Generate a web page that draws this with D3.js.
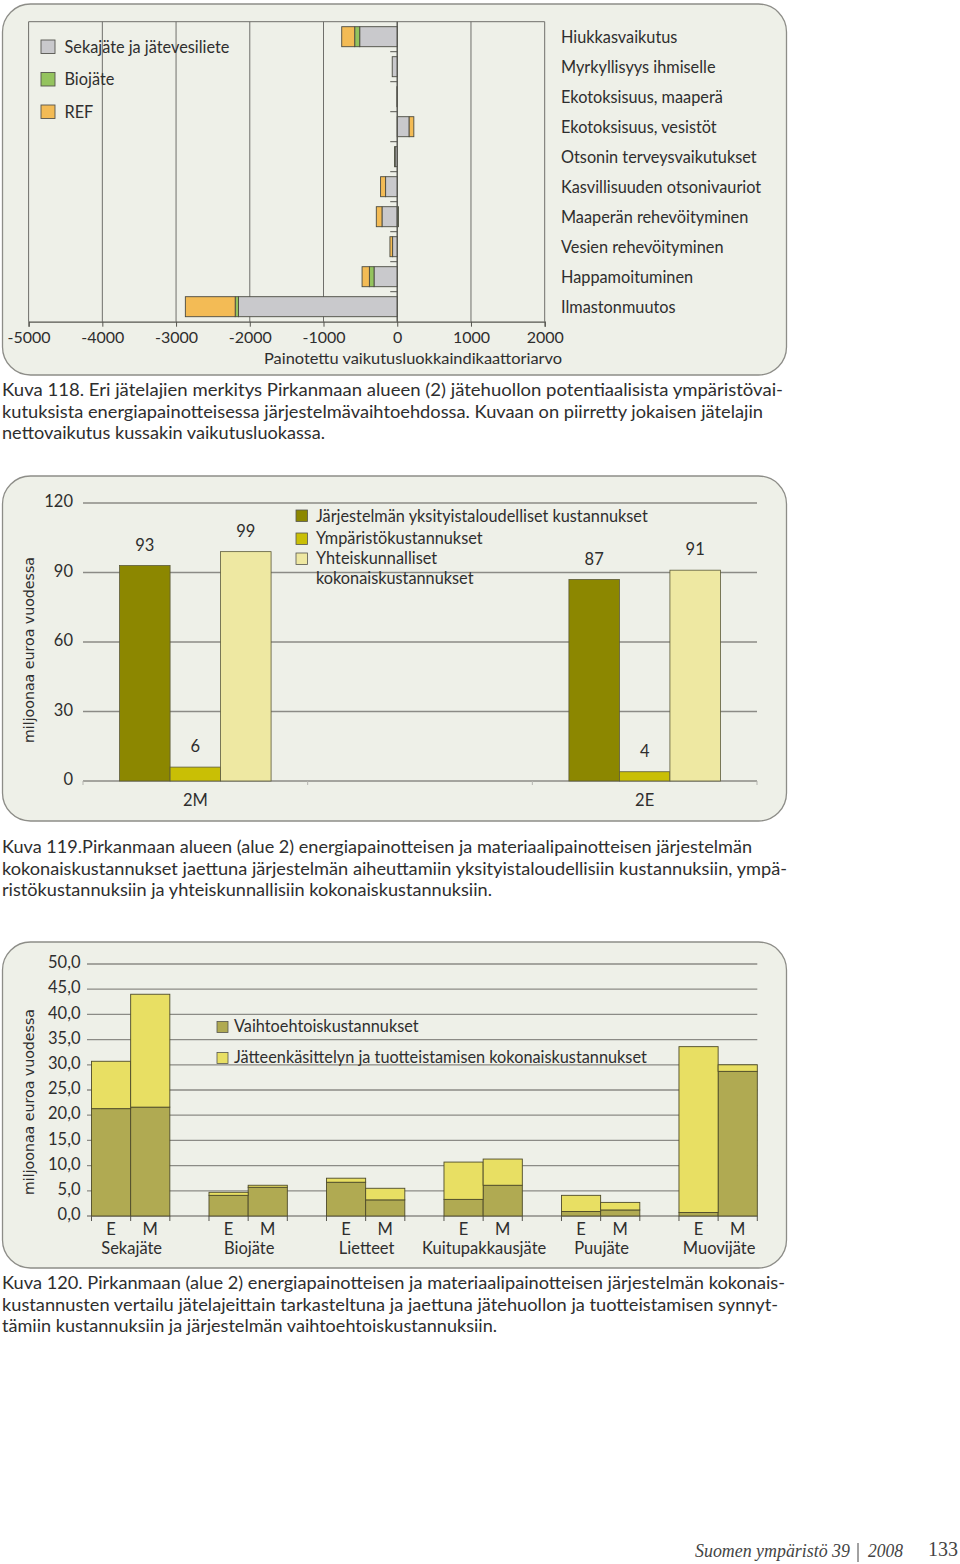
<!DOCTYPE html>
<html><head><meta charset="utf-8">
<script src="https://cdn.jsdelivr.net/npm/d3@7"></script>
<style>body{margin:0;background:#fff}</style>
</head><body><svg id="c" width="960" height="1564"></svg>
<script>
// ---------- Chart 1 data ----------
const impactCategories = ["Hiukkasvaikutus","Myrkyllisyys ihmiselle","Ekotoksisuus, maaperä","Ekotoksisuus, vesistöt","Otsonin terveysvaikutukset","Kasvillisuuden otsonivauriot","Maaperän rehevöityminen","Vesien rehevöityminen","Happamoituminen","Ilmastonmuutos"];
const wasteSeries = ["Sekajäte ja jätevesiliete","Biojäte","REF"];
const sekajateImpact = [-509,-68,-5,162,-30,-158,-207,-63,-315,-2153];
const biojateImpact  = [-68,0,0,0,-6,0,16,0,-63,-45];
const refImpact      = [-176,0,0,63,0,-68,-77,-36,-99,-676];
const impactTicks = [-5000,-4000,-3000,-2000,-1000,0,1000,2000];

// ---------- Chart 2 data ----------
const systemCats = ["2M","","2E"];
const costSeries = ["Järjestelmän yksityistaloudelliset kustannukset","Ympäristökustannukset","Yhteiskunnalliset kokonaiskustannukset"];
const privateCosts = [93, null, 87];
const envCosts     = [6, null, 4];
const socialCosts  = [99, null, 91];
const costTicks = [0,30,60,90,120];

// ---------- Chart 3 data ----------
const wasteTypes = ["Sekajäte","Biojäte","Lietteet","Kuitupakkausjäte","Puujäte","Muovijäte"];
const systems = ["E","M"];
const stackSeries = ["Vaihtoehtoiskustannukset","Jätteenkäsittelyn ja tuotteistamisen kokonaiskustannukset"];
const altCostE   = [21.3, 4.1, 6.7, 3.3, 0.9, 0.7];
const treatCostE = [9.4, 0.6, 0.8, 7.4, 3.2, 32.9];
const altCostM   = [21.6, 5.7, 3.2, 6.1, 1.2, 28.7];
const treatCostM = [22.4, 0.4, 2.3, 5.2, 1.5, 1.3];
const wasteTicks = [0,5,10,15,20,25,30,35,40,45,50];

const FONT = "Lato, 'Open Sans', sans-serif";
const TXT = "#2e2e2e";
const svg = d3.select("#c");

function panel(y0, y1) {
  svg.append("rect").attr("x",2.5).attr("y",y0).attr("width",784).attr("height",y1-y0)
    .attr("rx",28).attr("ry",28).attr("fill","#eef0e8").attr("stroke","#8d8d88").attr("stroke-width",1.3);
}
function text(g, x, y, s, opts={}) {
  const t = g.append("text").attr("x",x).attr("y",y).text(s)
    .attr("font-family",opts.family||FONT).attr("font-size",opts.size||15)
    .attr("fill",opts.fill||TXT).attr("text-anchor",opts.anchor||"start")
    .attr("dominant-baseline",opts.baseline||"middle");
  if (opts.style) t.attr("font-style",opts.style);
  if (opts.len) t.attr("textLength",opts.len).attr("lengthAdjust","spacingAndGlyphs");
  return t;
}

// ================= Chart 1 =================
panel(4, 375);
{
  const g = svg.append("g");
  const x = d3.scaleLinear().domain([-5000,2000]).range([28.6,544.7]);
  const y = d3.scaleBand().domain(impactCategories).range([21.7,321.7]).paddingInner(1/3).paddingOuter(1/6);
  const colors = d3.scaleOrdinal().domain(wasteSeries).range(["#c9c9cc","#94c35e","#f3bb55"]);

  g.selectAll("line.grid").data(impactTicks).join("line")
    .attr("x1",d=>x(d)).attr("x2",d=>x(d)).attr("y1",21.7).attr("y2",321.7)
    .attr("stroke","#6f6f6b").attr("stroke-width",1);
  g.append("line").attr("x1",x(-5000)).attr("x2",x(2000)).attr("y1",21.7).attr("y2",21.7)
    .attr("stroke","#6f6f6b").attr("stroke-width",1);

  const ax = g.append("g").attr("transform","translate(0,321.7)")
    .call(d3.axisBottom(x).tickValues(impactTicks).tickSize(5).tickPadding(5).tickFormat(d=>String(d)));
  ax.select(".domain").attr("stroke","#55554f").attr("stroke-width",1.2);
  ax.selectAll(".tick line").attr("stroke","#55554f");
  ax.selectAll(".tick text").attr("font-family",FONT).attr("font-size",16).attr("fill",TXT);

  const rows = impactCategories.map((c,i)=>({cat:c,[wasteSeries[0]]:sekajateImpact[i],[wasteSeries[1]]:biojateImpact[i],[wasteSeries[2]]:refImpact[i]}));
  const stacked = d3.stack().keys(wasteSeries).offset(d3.stackOffsetDiverging)(rows);
  stacked.forEach(s=>{
    g.append("g").selectAll("rect").data(s.filter(d=>d[1]-d[0]!==0)).join("rect")
      .attr("x",d=>x(Math.min(d[0],d[1]))).attr("width",d=>Math.abs(x(d[1])-x(d[0])))
      .attr("y",d=>y(d.data.cat)).attr("height",y.bandwidth())
      .attr("fill",colors(s.key)).attr("stroke","#4a4a40").attr("stroke-width",0.9);
  });

  g.append("line").attr("x1",x(0)).attr("x2",x(0)).attr("y1",21.7).attr("y2",321.7)
    .attr("stroke","#55554f").attr("stroke-width",1.2);
  const step = y.step();
  g.selectAll("line.ctick").data(impactCategories.slice(1)).join("line")
    .attr("x1",x(0)-7).attr("x2",x(0)).attr("y1",d=>y(d)-step/6).attr("y2",d=>y(d)-step/6)
    .attr("stroke","#55554f").attr("stroke-width",1);

  impactCategories.forEach(c=>text(g,561,y(c)+y.bandwidth()/2+2,c,{size:16.3}));

  text(g,264,359.5,"Painotettu vaikutusluokkaindikaattoriarvo",{size:15.8,len:298});

  wasteSeries.forEach((s,i)=>{
    const yy = 40 + i*32.5;
    g.append("rect").attr("x",41).attr("y",yy).attr("width",14).attr("height",13.5)
      .attr("fill",colors(s)).attr("stroke","#55554f").attr("stroke-width",0.9);
    text(g,64.5,yy+8.5,s,{size:16.3});
  });
}

// Caption 1
[["Kuva 118. Eri jätelajien merkitys Pirkanmaan alueen (2) jätehuollon potentiaalisista ympäristövai-",392,781],
 ["kutuksista energiapainotteisessa järjestelmävaihtoehdossa. Kuvaan on piirretty jokaisen jätelajin",413.5,761],
 ["nettovaikutus kussakin vaikutusluokassa.",435,323]].forEach(([s,yy,l])=>text(svg,2,yy,s,{size:16.5,len:l}));

// ================= Chart 2 =================
panel(476, 821);
{
  const g = svg.append("g");
  const y = d3.scaleLinear().domain([0,120]).range([781,503]);
  const x = d3.scaleBand().domain(systemCats).range([83,757]);
  const groupW = 151.5;
  const xi = d3.scaleBand().domain(costSeries).range([0,groupW]);
  const colors = d3.scaleOrdinal().domain(costSeries).range(["#8c8700","#c9bf05","#eee8a2"]);

  g.selectAll("line.grid").data(costTicks).join("line")
    .attr("x1",83).attr("x2",757).attr("y1",d=>y(d)).attr("y2",d=>y(d))
    .attr("stroke","#8b8b86").attr("stroke-width",1.3);
  costTicks.forEach(t=>text(g,73,y(t),String(t),{size:16.5,anchor:"end"}));

  const bounds = systemCats.map(c=>x(c)).concat([757]);
  g.selectAll("line.ct").data(bounds).join("line")
    .attr("x1",d=>d).attr("x2",d=>d).attr("y1",y(0)).attr("y2",y(0)+4)
    .attr("stroke","#b5b5b0").attr("stroke-width",1);

  const vals = [privateCosts, envCosts, socialCosts];
  systemCats.forEach((c,ci)=>{
    if (privateCosts[ci]===null) return;
    const off = x(c) + (x.bandwidth()-groupW)/2;
    costSeries.forEach((s,si)=>{
      const v = vals[si][ci];
      g.append("rect").attr("x",off+xi(s)).attr("width",xi.bandwidth())
        .attr("y",y(v)).attr("height",y(0)-y(v))
        .attr("fill",colors(s)).attr("stroke","#5b5a3a").attr("stroke-width",0.8);
      text(g,off+xi(s)+xi.bandwidth()/2,y(v)-19,String(v),{size:16.5,anchor:"middle"});
    });
    text(g,x(c)+x.bandwidth()/2,801.5,c,{size:16.5,anchor:"middle"});
  });

  text(g,0,0,"miljoonaa euroa vuodessa",{size:14,anchor:"middle",family:"'DejaVu Sans', sans-serif",len:186})
    .attr("transform","translate(30,650) rotate(-90)");

  const legY = [510, 533, 553];
  costSeries.forEach((s,i)=>{
    g.append("rect").attr("x",296).attr("y",legY[i]).attr("width",11.5).attr("height",11.5)
      .attr("fill",colors(s)).attr("stroke","#55554f").attr("stroke-width",0.8);
  });
  text(g,316,517.5,costSeries[0],{size:16.3});
  text(g,316,539.5,costSeries[1],{size:16.3});
  text(g,316,559.5,"Yhteiskunnalliset",{size:16.3});
  text(g,316,579.5,"kokonaiskustannukset",{size:16.3});
}

// Caption 2
[["Kuva 119.Pirkanmaan alueen (alue 2) energiapainotteisen ja materiaalipainotteisen järjestelmän",849,750],
 ["kokonaiskustannukset jaettuna järjestelmän aiheuttamiin yksityistaloudellisiin kustannuksiin, ympä-",870.5,785],
 ["ristökustannuksiin ja yhteiskunnallisiin kokonaiskustannuksiin.",892,490]].forEach(([s,yy,l])=>text(svg,2,yy,s,{size:16.5,len:l}));

// ================= Chart 3 =================
panel(942, 1268);
{
  const g = svg.append("g");
  const slots = [];
  wasteTypes.forEach((t,i)=>{ systems.forEach(s=>slots.push(t+"|"+s)); if(i<wasteTypes.length-1) slots.push("gap"+i); });
  const x = d3.scaleBand().domain(slots).range([91.5,757.3]);
  const y = d3.scaleLinear().domain([0,50]).range([1216,964]);
  const colors = d3.scaleOrdinal().domain(stackSeries).range(["#b0aa52","#e8df63"]);

  g.selectAll("line.grid").data(wasteTicks).join("line")
    .attr("x1",87).attr("x2",757.3).attr("y1",d=>y(d)).attr("y2",d=>y(d))
    .attr("stroke","#8b8b86").attr("stroke-width",1.3);
  wasteTicks.forEach(t=>text(g,80.5,y(t),t.toFixed(1).replace(".",","),{size:16.5,anchor:"end"}));

  const rows = [];
  wasteTypes.forEach((t,i)=>{
    rows.push({key:t+"|E",[stackSeries[0]]:altCostE[i],[stackSeries[1]]:treatCostE[i]});
    rows.push({key:t+"|M",[stackSeries[0]]:altCostM[i],[stackSeries[1]]:treatCostM[i]});
  });
  const stacked = d3.stack().keys(stackSeries)(rows);
  stacked.forEach(s=>{
    g.append("g").selectAll("rect").data(s).join("rect")
      .attr("x",d=>x(d.data.key)).attr("width",x.bandwidth())
      .attr("y",d=>y(d[1])).attr("height",d=>y(d[0])-y(d[1]))
      .attr("fill",colors(s.key)).attr("stroke","#4e4b2a").attr("stroke-width",0.9);
  });

  const edges = [];
  wasteTypes.forEach(t=>{ edges.push(x(t+"|E"), x(t+"|M"), x(t+"|M")+x.bandwidth()); });
  g.selectAll("line.bt").data(edges).join("line")
    .attr("x1",d=>d).attr("x2",d=>d).attr("y1",y(0)).attr("y2",y(0)+5)
    .attr("stroke","#55554f").attr("stroke-width",1);

  wasteTypes.forEach(t=>{
    systems.forEach(s=>text(g,x(t+"|"+s)+x.bandwidth()/2,1231,s,{size:16.5,anchor:"middle"}));
    text(g,x(t+"|M")+1,1249.5,t,{size:16.5,anchor:"middle"});
  });

  text(g,0,0,"miljoonaa euroa vuodessa",{size:14,anchor:"middle",family:"'DejaVu Sans', sans-serif",len:186})
    .attr("transform","translate(30,1102) rotate(-90)");

  const legY = [1021.5, 1052.5];
  stackSeries.forEach((s,i)=>{
    g.append("rect").attr("x",217).attr("y",legY[i]).attr("width",11).attr("height",11)
      .attr("fill",colors(s)).attr("stroke","#55554f").attr("stroke-width",0.8);
    text(g,234,legY[i]+6,s,{size:16.3});
  });
}

// Caption 3
[["Kuva 120. Pirkanmaan (alue 2) energiapainotteisen ja materiaalipainotteisen järjestelmän kokonais-",1285,783],
 ["kustannusten vertailu jätelajeittain tarkasteltuna ja jaettuna jätehuollon ja tuotteistamisen synnyt-",1306.5,776],
 ["tämiin kustannuksiin ja järjestelmän vaihtoehtoiskustannuksiin.",1328,495]].forEach(([s,yy,l])=>text(svg,2,yy,s,{size:16.5,len:l}));

// Footer
text(svg,695,1553,"Suomen ympäristö 39",{size:18,family:"'Liberation Serif', serif",style:"italic",fill:"#444",len:155});
svg.append("line").attr("x1",858).attr("x2",858).attr("y1",1543).attr("y2",1562).attr("stroke","#444").attr("stroke-width",1);
text(svg,868,1553,"2008",{size:18,family:"'Liberation Serif', serif",style:"italic",fill:"#444",len:35});
text(svg,958,1551,"133",{size:20,family:"'Liberation Serif', serif",anchor:"end",fill:"#444"});
</script></body></html>
